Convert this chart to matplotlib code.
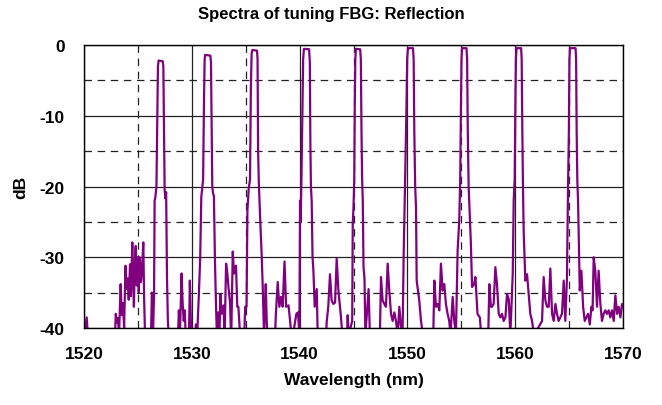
import numpy as np
import matplotlib.pyplot as plt

# trace (nm, dB); values under -40 are clipped by the axis
wavelength = [
    1520.00, 1520.25, 1520.40, 1522.85, 1522.95, 1523.05, 1523.15, 1523.25, 1523.40, 1523.50,
    1523.62, 1523.72, 1523.85, 1523.95, 1524.05, 1524.15, 1524.27, 1524.35, 1524.48, 1524.55,
    1524.63, 1524.72, 1524.80, 1524.90, 1525.00, 1525.08, 1525.18, 1525.28, 1525.38, 1525.50,
    1525.58, 1525.68, 1526.20, 1526.30, 1526.40, 1526.50, 1526.55, 1526.62, 1526.72, 1526.80,
    1526.86, 1526.92, 1527.30, 1527.36, 1527.42, 1527.48, 1527.55, 1527.62, 1527.70, 1527.78,
    1527.90, 1528.70, 1528.80, 1528.90, 1529.05, 1529.15, 1529.25, 1529.35, 1529.45, 1529.75,
    1529.82, 1529.92, 1530.05, 1530.30, 1530.38, 1530.50, 1530.67, 1530.78, 1530.88, 1530.95,
    1531.05, 1531.13, 1531.19, 1531.24, 1531.72, 1531.78, 1531.84, 1531.90, 1531.97, 1532.05,
    1532.15, 1532.25, 1532.35, 1532.45, 1532.55, 1532.65, 1532.75, 1532.93, 1533.05, 1533.18,
    1533.30, 1533.40, 1533.55, 1533.65, 1533.80, 1533.92, 1534.10, 1534.22, 1534.32, 1534.48,
    1534.85, 1534.95, 1535.08, 1535.16, 1535.28, 1535.40, 1535.48, 1535.55, 1535.62, 1536.05,
    1536.10, 1536.15, 1536.22, 1536.30, 1536.38, 1536.49, 1536.58, 1536.70, 1536.86, 1536.95,
    1537.05, 1537.70, 1537.80, 1537.97, 1538.12, 1538.28, 1538.43, 1538.60, 1538.75, 1538.97,
    1539.12, 1539.28, 1539.70, 1539.85, 1539.98, 1540.04, 1540.10, 1540.17, 1540.26, 1540.33,
    1540.40, 1540.88, 1540.95, 1541.00, 1541.05, 1541.12, 1541.20, 1541.28, 1541.40, 1541.59,
    1541.68, 1542.45, 1542.52, 1542.66, 1542.82, 1542.97, 1543.13, 1543.29, 1543.44, 1543.60,
    1543.81, 1543.97, 1544.40, 1544.46, 1544.55, 1544.88, 1544.93, 1545.00, 1545.07, 1545.12,
    1545.17, 1545.22, 1545.62, 1545.68, 1545.74, 1545.80, 1545.86, 1545.93, 1546.02, 1546.10,
    1546.40, 1546.52, 1547.45, 1547.55, 1547.70, 1547.86, 1548.01, 1548.17, 1548.32, 1548.48,
    1548.63, 1548.79, 1548.94, 1549.10, 1549.25, 1549.40, 1549.55, 1549.65, 1549.71, 1549.80,
    1549.90, 1549.98, 1550.05, 1550.52, 1550.58, 1550.64, 1550.72, 1550.80, 1550.86, 1550.98,
    1551.10, 1551.26, 1551.40, 1551.65, 1552.40, 1552.50, 1552.65, 1552.81, 1552.96, 1553.11,
    1553.27, 1553.42, 1553.57, 1553.73, 1553.88, 1554.00, 1554.20, 1554.35, 1554.50, 1554.66,
    1554.81, 1554.90, 1554.97, 1555.02, 1555.07, 1555.48, 1555.54, 1555.60, 1555.68, 1555.76,
    1555.88, 1556.00, 1556.19, 1556.31, 1556.50, 1556.72, 1556.85, 1557.50, 1557.60, 1557.75,
    1557.85, 1558.00, 1558.16, 1558.31, 1558.47, 1558.62, 1558.78, 1558.93, 1559.09, 1559.24,
    1559.40, 1559.55, 1559.77, 1559.86, 1559.95, 1560.02, 1560.07, 1560.12, 1560.55, 1560.60,
    1560.66, 1560.72, 1560.79, 1560.94, 1561.10, 1561.25, 1561.40, 1561.56, 1561.75, 1562.49,
    1562.64, 1562.80, 1562.95, 1563.11, 1563.26, 1563.42, 1563.57, 1563.73, 1563.88, 1564.03,
    1564.19, 1564.34, 1564.50, 1564.65, 1564.80, 1564.90, 1564.98, 1565.03, 1565.08, 1565.60,
    1565.65, 1565.70, 1565.76, 1565.83, 1565.90, 1565.99, 1566.14, 1566.30, 1566.45, 1566.61,
    1566.76, 1566.92, 1567.07, 1567.18, 1567.28, 1567.43, 1567.59, 1567.74, 1567.90, 1568.05,
    1568.20, 1568.36, 1568.51, 1568.67, 1568.82, 1568.98, 1569.14, 1569.29, 1569.45, 1569.60,
    1569.76, 1569.91, 1570.00,
]
reflection_db = [
    -42.0, -38.5, -42.0, -42.0, -38.0, -39.2, -38.6, -41.0, -33.8, -38.2,
    -36.5, -40.0, -31.2, -34.5, -33.0, -36.0, -31.0, -35.5, -27.9, -33.0,
    -37.0, -30.5, -28.4, -34.0, -30.0, -35.0, -30.0, -33.5, -32.0, -27.9,
    -36.0, -42.0, -42.0, -35.0, -41.0, -35.0, -22.0, -21.5, -20.0, -10.0,
    -3.0, -2.2, -2.3, -3.0, -12.0, -20.5, -21.7, -20.8, -33.0, -39.0,
    -42.0, -42.0, -37.5, -41.0, -32.3, -36.5, -39.0, -37.5, -42.0, -40.0,
    -33.3, -39.5, -42.0, -42.0, -39.5, -41.0, -34.7, -30.0, -21.5, -20.5,
    -19.0, -8.0, -2.0, -1.4, -1.5, -2.5, -12.0, -20.0, -21.0, -21.3,
    -30.7, -37.0, -42.0, -37.8, -42.0, -35.2, -38.0, -36.8, -41.0, -30.9,
    -32.3, -34.2, -36.5, -42.0, -29.2, -32.3, -31.2, -37.0, -37.0, -41.0,
    -42.0, -37.0, -37.0, -23.4, -20.3, -19.0, -6.0, -1.2, -0.7, -0.8,
    -2.0, -15.0, -19.6, -23.0, -26.0, -30.0, -34.2, -41.0, -33.8, -39.0,
    -42.0, -42.0, -38.0, -33.5, -37.0, -35.6, -37.0, -30.6, -37.0, -36.8,
    -39.0, -42.0, -38.0, -37.8, -41.0, -22.0, -25.0, -19.0, -10.0, -2.0,
    -0.55, -0.6, -2.5, -14.0, -20.0, -22.0, -30.0, -31.9, -37.0, -34.5,
    -41.0, -41.0, -39.0, -37.0, -32.4, -36.1, -36.6, -36.4, -30.2, -34.7,
    -38.0, -41.0, -41.0, -38.2, -41.0, -39.0, -25.3, -22.9, -19.0, -8.0,
    -2.0, -0.55, -0.6, -2.0, -12.0, -19.0, -22.0, -31.4, -33.0, -41.0,
    -34.5, -41.0, -41.0, -32.8, -36.1, -36.6, -37.0, -30.9, -34.7, -38.0,
    -39.0, -37.8, -39.0, -41.0, -37.0, -39.7, -41.0, -30.0, -25.3, -19.0,
    -10.0, -2.0, -0.45, -0.45, -2.0, -12.0, -20.0, -23.0, -33.3, -34.7,
    -36.1, -39.0, -40.5, -41.0, -41.0, -33.3, -37.0, -36.6, -37.5, -30.9,
    -34.7, -33.8, -36.6, -38.0, -39.0, -41.0, -35.6, -39.0, -41.0, -29.0,
    -24.8, -19.0, -8.0, -2.0, -0.45, -0.45, -2.0, -12.0, -20.0, -23.0,
    -27.7, -34.2, -33.8, -32.8, -38.0, -38.5, -41.0, -41.0, -33.8, -37.0,
    -37.0, -36.6, -31.4, -33.8, -38.0, -38.5, -38.0, -39.0, -38.5, -35.2,
    -35.9, -41.0, -32.4, -22.0, -19.0, -8.0, -2.0, -0.45, -0.45, -2.0,
    -12.0, -20.0, -26.5, -33.3, -32.4, -35.2, -38.0, -39.0, -41.0, -39.0,
    -32.8, -36.1, -37.0, -37.0, -31.6, -38.0, -39.0, -36.6, -38.0, -39.0,
    -38.5, -38.0, -33.3, -39.0, -33.0, -20.3, -12.0, -2.0, -0.45, -0.45,
    -2.0, -12.0, -19.0, -22.0, -27.7, -34.7, -31.9, -37.0, -39.0, -38.5,
    -38.0, -39.5, -37.0, -37.5, -30.0, -31.9, -37.0, -31.9, -36.6, -39.0,
    -38.0, -37.5, -38.0, -37.5, -38.5, -37.5, -39.0, -35.4, -38.0, -37.0,
    -38.5, -36.6, -37.0,
]

x_ticks = [1520, 1530, 1540, 1550, 1560, 1570]
x_minor = [1525, 1535, 1545, 1555, 1565]
y_ticks = [0, -10, -20, -30, -40]
y_minor = [-5, -15, -25, -35]

plt.rcParams['font.family'] = ['Liberation Sans', 'DejaVu Sans']
plt.rcParams['axes.unicode_minus'] = False

fig = plt.figure(figsize=(6.62, 4.06), dpi=100)
ax = fig.add_axes([84/662, 1 - 329/406, 539/662, 283/406])

ax.plot(wavelength, reflection_db, color='#800080', lw=1.6)

ax.set_xlim(1520, 1570)
ax.set_ylim(-40, 0)
ax.set_xticks(x_ticks)
ax.set_xticks(x_minor, minor=True)
ax.set_yticks(y_ticks)
ax.set_yticks(y_minor, minor=True)
ax.grid(which='major', color='#222222', lw=0.9, ls='-')
ax.grid(which='minor', color='#222222', lw=0.9, ls=(0, (6, 4.5)))
ax.tick_params(which='both', length=0)
ax.tick_params(axis='x', pad=13, labelsize=12.5)
ax.tick_params(axis='y', pad=14, labelsize=12.5)
for lab in ax.get_xticklabels() + ax.get_yticklabels():
    lab.set_fontweight('bold')
for s in ax.spines.values():
    s.set_linewidth(1.0)

ax.set_xlabel('Wavelength (nm)', fontsize=12.5, fontweight='bold', labelpad=8)
ax.set_ylabel('dB', fontsize=12.5, fontweight='bold', labelpad=8)
fig.text(0.5, 1 - 14/406, 'Spectra of tuning FBG: Reflection', ha='center', va='center',
         fontsize=12, fontweight='bold')

fig.savefig('out.png', dpi=100)
